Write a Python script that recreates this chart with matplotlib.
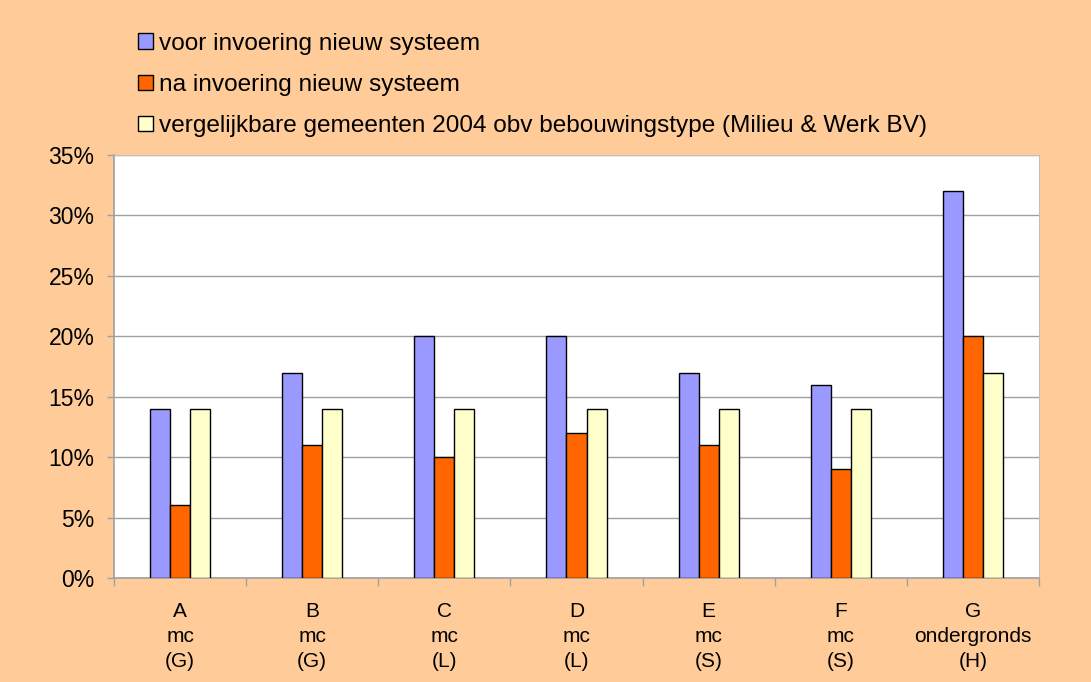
import matplotlib
matplotlib.use("Agg")
import matplotlib.pyplot as plt
import numpy as np
from matplotlib.patches import Patch
from matplotlib.ticker import FuncFormatter, FixedLocator

categories = ["A\nmc\n(G)", "B\nmc\n(G)", "C\nmc\n(L)", "D\nmc\n(L)", "E\nmc\n(S)", "F\nmc\n(S)", "G\nondergronds\n(H)"]
voor = [14, 17, 20, 20, 17, 16, 32]
na = [6, 11, 10, 12, 11, 9, 20]
vergelijk = [14, 14, 14, 14, 14, 14, 17]
series_names = ["voor invoering nieuw systeem", "na invoering nieuw systeem",
                "vergelijkbare gemeenten 2004 obv bebouwingstype (Milieu & Werk BV)"]
colors = ["#9999FF", "#FF6600", "#FFFFCC"]

plt.rcParams['font.family'] = ['Liberation Sans', 'DejaVu Sans']

fig = plt.figure(figsize=(10.91, 6.82), dpi=100)
fig.patch.set_facecolor("#FFCC99")
ax = fig.add_axes([114/1091, 1-578/682, 925/1091, 423/682])
ax.set_facecolor("white")

x = np.arange(len(categories))
w = 0.152
for i, (vals, c) in enumerate(zip([voor, na, vergelijk], colors)):
    ax.bar(x + (i-1)*w, vals, width=w, color=c, edgecolor="black", linewidth=1.0, zorder=3)

ax.set_xlim(-0.5, len(categories)-0.5)
ax.set_ylim(0, 35)
ax.set_yticks(np.arange(0, 36, 5))
ax.yaxis.set_major_formatter(FuncFormatter(lambda v, p: f"{int(v)}%"))
ax.grid(axis="y", color="#A0A0A0", linewidth=1.0, zorder=0)
ax.set_xticks(x)
ax.set_xticklabels(categories, fontsize=15, linespacing=1.42)
ax.tick_params(axis="x", length=0, pad=17)
ax.xaxis.set_minor_locator(FixedLocator(np.arange(-0.5, len(categories), 1.0)))
ax.tick_params(axis="x", which="minor", length=6, color="#A0A0A0", width=1)
ax.tick_params(axis="y", labelsize=16.5, length=5, color="#A0A0A0", width=1, pad=9)
for s in ["left", "bottom"]:
    ax.spines[s].set_color("#A0A0A0")
    ax.spines[s].set_linewidth(1.2)
for s in ["top", "right"]:
    ax.spines[s].set_color("#C0C0C0")
    ax.spines[s].set_linewidth(0.8)

handles = [Patch(facecolor=c, edgecolor="black", linewidth=1.0) for c in colors]
fig.legend(handles, series_names, loc="upper left", bbox_to_anchor=(138/1091, 1-33/682),
           frameon=False, fontsize=17.6, handlelength=0.62, handleheight=0.62,
           handletextpad=0.25, labelspacing=0.78, borderaxespad=0, borderpad=0)

fig.savefig("out.png", dpi=100, facecolor=fig.get_facecolor())
